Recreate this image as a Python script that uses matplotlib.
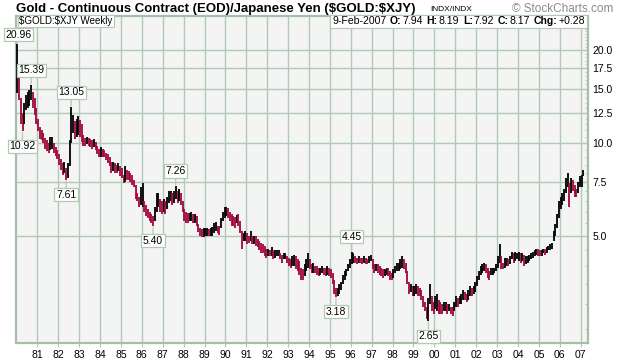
import matplotlib
matplotlib.use('Agg')
import matplotlib.pyplot as plt
from matplotlib.patches import Rectangle
import numpy as np

plt.rcParams['font.family'] = ['Liberation Sans', 'DejaVu Sans']

# monthly high / low of $GOLD:$XJY, Jan 1980 .. Feb 2007
start_year = 1980
month_high = [
    20.96, 17.0, 14.0, 12.5, 13.5, 14.3, 14.6, 14.8, 15.39, 14.6, 14.0, 13.0,  # 1980
    12.0, 11.3, 11.0, 10.8, 10.4, 10.2, 10.0, 10.5, 10.5, 10.0, 9.7, 9.5,     # 1981
    9.2, 8.9, 8.6, 8.7, 8.3, 8.6, 10.2, 13.05, 12.3, 11.8, 12.0, 12.2,        # 1982
    11.9, 11.5, 10.6, 10.4, 10.5, 10.4, 10.3, 10.2, 10.3, 10.1, 9.8, 9.6,     # 1983
    9.7, 9.6, 9.5, 9.3, 9.2, 9.0, 8.7, 8.7, 8.6, 8.5, 8.6, 8.4,               # 1984
    8.3, 7.9, 8.4, 8.2, 8.1, 8.0, 7.9, 7.6, 7.3, 6.9, 6.7, 7.2,               # 1985
    7.4, 6.5, 6.3, 6.1, 6.0, 5.9, 5.8, 6.2, 6.9, 6.9, 6.6, 6.5,               # 1986
    6.6, 6.5, 6.7, 7.0, 7.0, 6.9, 7.0, 7.26, 7.0, 7.1, 6.9, 6.5,              # 1987
    6.1, 6.0, 5.95, 5.95, 6.0, 5.9, 5.9, 5.8, 5.45, 5.3, 5.25, 5.3,           # 1988
    5.3, 5.3, 5.25, 5.3, 5.35, 5.5, 5.55, 5.4, 5.4, 5.7, 6.0, 6.2,            # 1989
    6.2, 6.15, 6.0, 5.9, 5.8, 5.75, 5.85, 5.9, 5.6, 5.2, 5.1, 5.2,            # 1990
    5.1, 5.0, 5.2, 5.0, 5.0, 5.0, 4.9, 4.8, 4.75, 4.7, 4.65, 4.55,            # 1991
    4.55, 4.5, 4.6, 4.5, 4.5, 4.5, 4.5, 4.4, 4.35, 4.4, 4.4, 4.3,             # 1992
    4.25, 4.2, 4.3, 4.35, 4.3, 4.2, 4.15, 3.95, 3.9, 4.05, 4.2, 4.4,          # 1993
    4.2, 4.05, 4.1, 4.0, 4.0, 3.95, 3.95, 4.0, 3.95, 3.95, 4.0, 3.95,         # 1994
    3.9, 3.8, 3.6, 3.4, 3.4, 3.5, 3.55, 3.75, 3.85, 3.9, 4.05, 4.2,           # 1995
    4.45, 4.4, 4.3, 4.25, 4.3, 4.25, 4.25, 4.3, 4.25, 4.2, 4.3, 4.35,         # 1996
    4.2, 4.05, 4.05, 4.05, 4.0, 3.95, 3.9, 3.9, 3.95, 3.95, 3.85, 3.8,        # 1997
    3.9, 4.0, 4.1, 4.1, 4.2, 4.3, 4.2, 4.1, 3.85, 3.55, 3.5, 3.45,            # 1998
    3.45, 3.5, 3.45, 3.4, 3.35, 3.2, 3.05, 2.95, 3.15, 3.5, 3.2, 3.05,        # 1999
    3.2, 3.25, 3.1, 3.05, 3.0, 3.05, 3.05, 3.0, 3.0, 2.95, 2.95, 3.05,        # 2000
    3.2, 3.15, 3.2, 3.25, 3.35, 3.3, 3.25, 3.35, 3.45, 3.4, 3.45, 3.55,       # 2001
    3.7, 3.85, 4.0, 4.05, 4.1, 4.05, 3.95, 3.85, 3.95, 3.95, 3.95, 4.05,      # 2002
    4.3, 4.7, 4.3, 4.1, 4.25, 4.25, 4.2, 4.3, 4.45, 4.4, 4.45, 4.4,           # 2003
    4.45, 4.4, 4.4, 4.35, 4.3, 4.3, 4.35, 4.4, 4.45, 4.5, 4.55, 4.55,         # 2004
    4.5, 4.5, 4.55, 4.55, 4.6, 4.65, 4.7, 4.75, 5.2, 5.45, 5.9, 6.5,          # 2005
    6.7, 6.9, 7.1, 7.7, 8.0, 7.4, 7.7, 7.6, 7.3, 7.1, 7.5, 7.8,               # 2006
    7.9, 8.19,                                                                # 2007
]
month_low = [
    14.5, 13.8, 11.5, 10.92, 11.5, 12.8, 13.0, 13.2, 13.8, 13.0, 12.3, 11.5,  # 1980
    10.9, 10.3, 10.2, 10.0, 9.6, 9.4, 9.3, 9.5, 9.6, 9.3, 9.1, 8.9,           # 1981
    8.5, 8.2, 7.9, 8.0, 7.61, 7.7, 8.4, 10.0, 10.8, 10.3, 10.5, 10.6,         # 1982
    10.5, 10.1, 9.8, 9.8, 9.9, 9.8, 9.7, 9.6, 9.7, 9.5, 9.2, 9.0,             # 1983
    9.0, 9.0, 9.0, 8.8, 8.6, 8.4, 8.0, 8.1, 8.0, 8.0, 8.1, 7.8,               # 1984
    7.7, 7.4, 7.5, 7.6, 7.6, 7.5, 7.3, 7.2, 6.6, 6.5, 6.2, 6.3,               # 1985
    6.2, 6.0, 5.8, 5.7, 5.6, 5.5, 5.40, 5.6, 6.0, 6.2, 6.0, 5.9,              # 1986
    6.0, 5.9, 6.1, 6.4, 6.5, 6.3, 6.4, 6.6, 6.4, 6.5, 6.3, 6.0,               # 1987
    5.6, 5.5, 5.5, 5.6, 5.6, 5.5, 5.5, 5.4, 5.15, 5.0, 4.95, 4.95,            # 1988
    5.0, 5.0, 5.0, 5.0, 5.0, 5.1, 5.2, 5.1, 5.05, 5.3, 5.6, 5.7,              # 1989
    5.8, 5.7, 5.6, 5.4, 5.4, 5.3, 5.5, 5.4, 5.1, 4.55, 4.8, 4.8,              # 1990
    4.7, 4.75, 4.8, 4.7, 4.7, 4.65, 4.6, 4.5, 4.4, 4.4, 4.3, 4.25,            # 1991
    4.3, 4.3, 4.3, 4.2, 4.25, 4.3, 4.3, 4.2, 4.1, 4.2, 4.2, 4.1,              # 1992
    4.0, 3.95, 4.0, 4.0, 3.9, 3.85, 3.75, 3.6, 3.6, 3.7, 3.85, 3.95,          # 1993
    3.9, 3.8, 3.8, 3.8, 3.75, 3.7, 3.75, 3.8, 3.75, 3.7, 3.75, 3.7,           # 1994
    3.65, 3.5, 3.25, 3.18, 3.2, 3.25, 3.35, 3.5, 3.6, 3.7, 3.85, 3.95,        # 1995
    4.05, 4.1, 4.1, 4.05, 4.1, 4.1, 4.05, 4.1, 4.05, 4.05, 4.1, 4.15,         # 1996
    3.9, 3.8, 3.85, 3.8, 3.75, 3.7, 3.65, 3.7, 3.75, 3.7, 3.6, 3.6,           # 1997
    3.65, 3.8, 3.85, 3.85, 3.9, 3.95, 3.9, 3.8, 3.5, 3.25, 3.3, 3.2,          # 1998
    3.2, 3.25, 3.2, 3.2, 3.1, 2.95, 2.85, 2.7, 2.65, 3.0, 2.85, 2.8,          # 1999
    2.9, 2.85, 2.8, 2.8, 2.8, 2.85, 2.85, 2.8, 2.85, 2.8, 2.75, 2.85,         # 2000
    2.95, 2.95, 3.0, 3.0, 3.1, 3.1, 3.05, 3.1, 3.2, 3.2, 3.25, 3.3,           # 2001
    3.45, 3.6, 3.75, 3.8, 3.85, 3.8, 3.65, 3.6, 3.75, 3.75, 3.8, 3.85,        # 2002
    3.95, 4.1, 3.9, 3.9, 3.95, 4.0, 4.0, 4.05, 4.2, 4.1, 4.15, 4.2,           # 2003
    4.15, 4.1, 4.15, 4.0, 4.05, 4.1, 4.15, 4.2, 4.25, 4.3, 4.35, 4.3,         # 2004
    4.3, 4.3, 4.4, 4.35, 4.4, 4.5, 4.5, 4.55, 4.8, 5.0, 5.3, 5.7,             # 2005
    6.1, 6.3, 6.5, 6.9, 7.2, 6.2, 6.9, 7.0, 6.7, 6.7, 6.9, 7.2,               # 2006
    7.2, 7.8,                                                                 # 2007
]

# labelled highs and lows: (decimal year, value, side)
callout_dates = [1980.04, 1980.71, 1980.29, 1982.62, 1982.38, 1987.62, 1986.54, 1996.04, 1995.29, 1999.71]
callout_values = [20.96, 15.39, 10.92, 13.05, 7.61, 7.26, 5.40, 4.45, 3.18, 2.65]
callout_side = ['up', 'up', 'down', 'up', 'down', 'up', 'down', 'up', 'down', 'down']

year_ticks = list(range(1981, 2008))
price_ticks = [5.0, 7.5, 10.0, 12.5, 15.0, 17.5, 20.0]

title = 'Gold - Continuous Contract (EOD)/Japanese Yen ($GOLD:$XJY)'
header_right = [('9-Feb-2007', False), ('O:', True), ('7.94', False), ('H:', True), ('8.19', False),
                ('L:', True), ('7.92', False), ('C:', True), ('8.17', False), ('Chg:', True), ('+0.28', False)]

grid_c = '#b2cab2'
up_c = '#000000'
down_c = '#a0063a'

W, H = 620, 359
fig = plt.figure(figsize=(W / 100, H / 100), dpi=100)
L, R, T, B = 16, 588, 16, 343
ax = fig.add_axes([L / W, 1 - B / H, (R - L) / W, (B - T) / H])
ax.set_facecolor('#f4f4f4')
ax.set_yscale('log')

hi = np.array(month_high)
lo = np.array(month_low)
t = start_year + (np.arange(len(hi)) + 0.5) / 12
mid = (hi + lo) / 2
cols = [up_c if i == 0 or mid[i] >= mid[i - 1] else down_c for i in range(len(mid))]
ax.vlines(t, lo, hi, colors=cols, linewidth=1.3, zorder=3)

ax.set_xlim(1979.98, 2007.35)
ax.set_ylim(2.25, 25.8)

for yr in year_ticks:
    ax.axvline(yr, color=grid_c, lw=1.0, zorder=1)
for p in price_ticks:
    ax.axhline(p, color=grid_c, lw=1.0, zorder=1)

ax.set_xticks(year_ticks)
ax.set_xticklabels(['%02d' % (y % 100) for y in year_ticks], fontsize=7.5)
ax.tick_params(axis='x', length=3, color=grid_c, pad=2)
ax.yaxis.tick_right()
ax.set_yticks(price_ticks)
ax.set_yticklabels(['%.1f' % p for p in price_ticks], fontsize=7.5)
ax.set_yticks(list(np.arange(2.5, 25.01, 0.5)), minor=True)
ax.yaxis.set_minor_formatter(plt.NullFormatter())
ax.tick_params(axis='y', which='both', direction='in', color=grid_c, pad=3)
ax.tick_params(axis='y', which='major', length=4)
ax.tick_params(axis='y', which='minor', length=2.5)
for s in ax.spines.values():
    s.set_color('#a6c0a6')
    s.set_linewidth(1.6)

for d, v, side in zip(callout_dates, callout_values, callout_side):
    dy = 10 if side == 'up' else -10
    dx = 0
    if d < 1980.2:  # first peak sits right under the header strip
        dy, dx = 4, 1
    ax.annotate('%.2f' % v, xy=(d, v), xytext=(dx, dy), textcoords='offset pixels',
                ha='center', va='bottom' if side == 'up' else 'top', fontsize=7.5,
                bbox=dict(boxstyle='square,pad=0.15', fc='white', ec=grid_c, lw=0.9),
                arrowprops=dict(arrowstyle='-', color=grid_c, lw=0.9, shrinkA=0, shrinkB=1),
                annotation_clip=False, zorder=5)

# title line
fig.text(L / W, 1 - 9 / H, title, fontsize=9.5, fontweight='bold', va='center', parse_math=False)
fig.text(430 / W, 1 - 9.5 / H, 'INDX/INDX', fontsize=6, va='center')
fig.text(613 / W, 1 - 9.5 / H, '\u00a9 StockCharts.com', fontsize=8.5, color='#8c8c8c',
         ha='right', va='center')

# header strip inside the plot
fig.text((L + 3) / W, 1 - 21 / H, '$GOLD:$XJY Weekly', fontsize=7, va='center', parse_math=False,
         bbox=dict(boxstyle='square,pad=0.15', fc='white', ec=grid_c, lw=0.8))

renderer = fig.canvas.get_renderer()
pieces = []
x = 0.0
for s, bold in header_right:
    txt = fig.text(0, 1 - 21.5 / H, s, fontsize=7.6, va='center',
                   fontweight='bold' if bold else 'normal', zorder=6)
    w = txt.get_window_extent(renderer).width
    pieces.append((txt, x))
    x += w + (1 if bold else 3.5)
x -= 3.5
x0 = R - 3 - x
for txt, off in pieces:
    txt.set_x((x0 + off) / W)
fig.add_artist(Rectangle(((x0 - 2) / W, 1 - 27.5 / H), (x + 4) / W, 12 / H, transform=fig.transFigure,
                         fc='white', ec=grid_c, lw=0.8, zorder=5))

fig.savefig('out.png', dpi=100)
